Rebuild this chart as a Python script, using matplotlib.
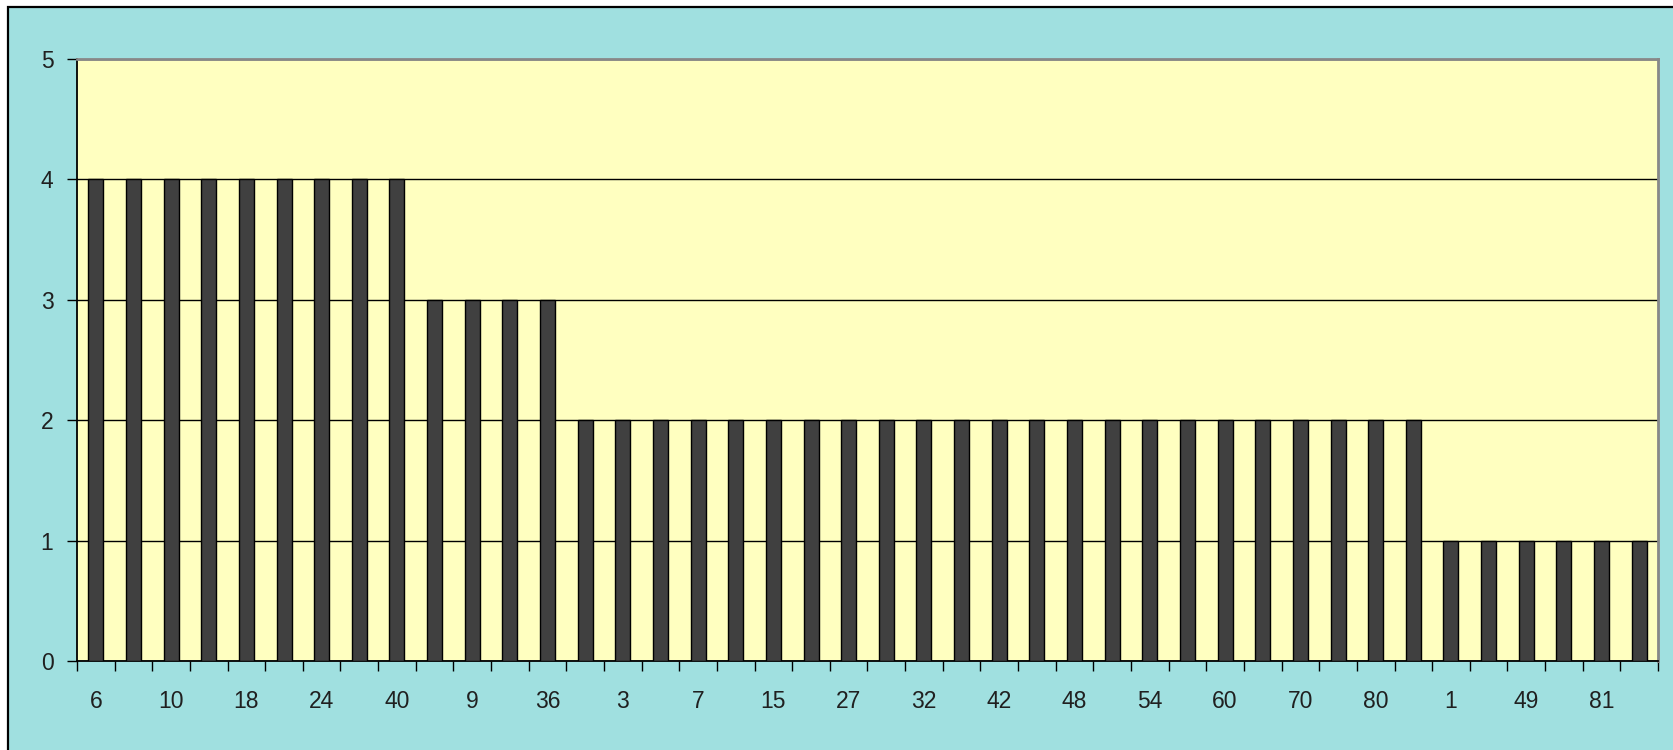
import matplotlib
matplotlib.use('Agg')
import matplotlib.pyplot as plt
from matplotlib.patches import Rectangle

# category labels (only every second one is shown on the axis)
labels = ['6', '8', '10', '12', '18', '20', '24', '30', '40',
          '4', '9', '16', '36',
          '2', '3', '5', '7', '14', '15', '21', '27', '28', '32', '35', '42',
          '45', '48', '50', '54', '56', '60', '63', '70', '72', '80', '90',
          '1', '25', '49', '64', '81', '100']
counts = [4, 4, 4, 4, 4, 4, 4, 4, 4,
          3, 3, 3, 3,
          2, 2, 2, 2, 2, 2, 2, 2, 2, 2, 2, 2,
          2, 2, 2, 2, 2, 2, 2, 2, 2, 2, 2,
          1, 1, 1, 1, 1, 1]
y_ticks = [0, 1, 2, 3, 4, 5]

plt.rcParams['font.family'] = ['Liberation Sans', 'DejaVu Sans']

fig = plt.figure(figsize=(16.73, 7.5), dpi=100)
fig.patch.set_facecolor('white')
# cyan chart area with black frame on the top/left
fig.add_artist(Rectangle((8 / 1673, -0.1), 1.2, (750 - 7) / 750 + 0.1,
                         transform=fig.transFigure, facecolor='#a0e0e0',
                         edgecolor='black', linewidth=1.6, zorder=-10))

ax = fig.add_axes([77 / 1673, 1 - 661 / 750, (1658 - 77) / 1673, (661 - 59) / 750])
ax.set_facecolor('#ffffc0')

n = len(counts)
xs = list(range(n))
ax.bar(xs, counts, width=0.4, color='#404040', edgecolor='black',
       linewidth=1.0, zorder=3)

ax.set_xlim(-0.5, n - 0.5)
ax.set_ylim(0, 5)
ax.set_yticks(y_ticks)
ax.yaxis.grid(True, color='black', linewidth=1.0, zorder=1)
ax.set_axisbelow(True)

# ticks at category boundaries, labels centred under categories
ax.set_xticks([i - 0.5 for i in range(n + 1)])
ax.set_xticklabels([])
ax.set_xticks(xs[::2], minor=True)
ax.set_xticklabels(labels[::2], minor=True)
ax.tick_params(axis='x', which='major', direction='out', length=7,
               width=1.0, color='black')
ax.tick_params(axis='x', which='minor', length=0, pad=21, labelsize=16.5,
               labelcolor='#202020')
ax.tick_params(axis='y', direction='out', length=7, width=1.0,
               pad=10, labelsize=16.5, labelcolor='#202020')

for side in ['left', 'bottom']:
    ax.spines[side].set_color('black')
    ax.spines[side].set_linewidth(1.3)
for side in ['top', 'right']:
    ax.spines[side].set_color('#888888')
    ax.spines[side].set_linewidth(2.0)

fig.savefig('out.png', dpi=100, facecolor=fig.get_facecolor())
